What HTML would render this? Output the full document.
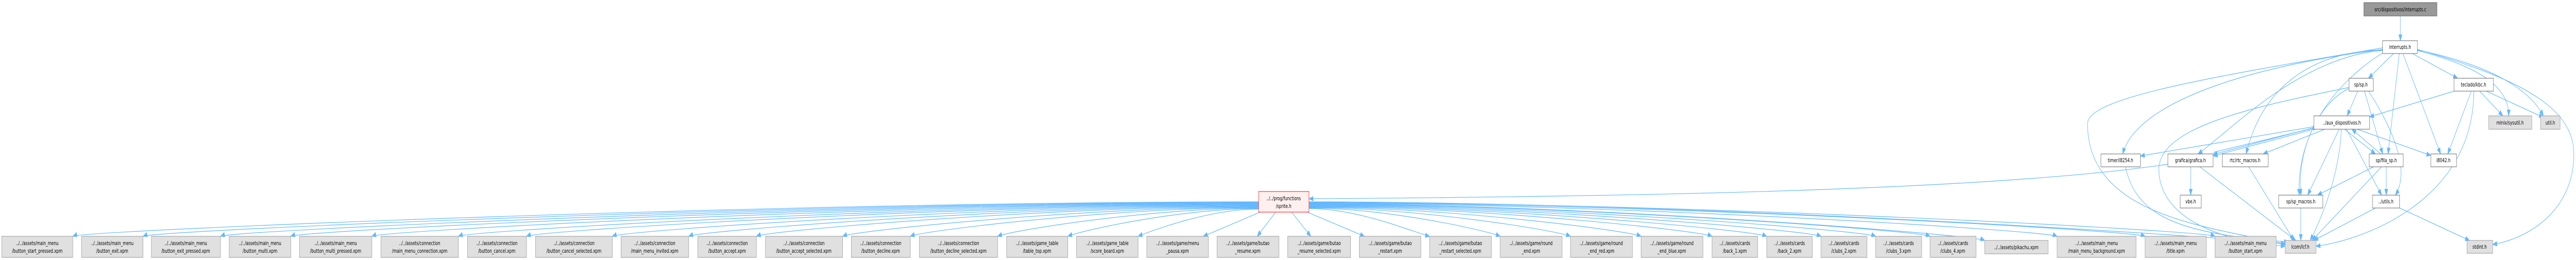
<!DOCTYPE html>
<html><head><meta charset="utf-8"><style>
html,body{margin:0;padding:0;background:#fff;width:100%;height:100%;overflow:hidden;}
svg{display:block;position:absolute;left:0;top:0;width:100vw;height:100vh;}
text{font-family:"DejaVu Sans","Liberation Sans",sans-serif;font-size:10.4px;fill:#000;text-anchor:middle;}
.e{fill:none;stroke:#63b8ff;stroke-width:1.2;marker-end:url(#a);}
.g{fill:#e0e0e0;stroke:#999;stroke-width:1;}
.w{fill:#fff;stroke:#666;stroke-width:1;}
</style></head><body>
<svg viewBox="0 0 7114 505" preserveAspectRatio="none" xmlns="http://www.w3.org/2000/svg">
<defs><marker id="a" markerUnits="userSpaceOnUse" markerWidth="14" markerHeight="11" refX="12" refY="4.5" orient="auto"><path d="M0,0 L12,4.5 L0,9 z" fill="#63b8ff" stroke="#63b8ff"/></marker></defs>

<path class="e" d="M3476,392 C2166,392 241,447 201,459"/>
<path class="e" d="M3476,393 C2244,393 435,447 395,459"/>
<path class="e" d="M3476,394 C2329,394 649,447 609,459"/>
<path class="e" d="M3476,395 C2407,395 843,447 803,459"/>
<path class="e" d="M3476,396 C2496,396 1067,447 1027,459"/>
<path class="e" d="M3476,397 C2592,397 1306,447 1266,459"/>
<path class="e" d="M3476,398 C2667,398 1494,447 1454,459"/>
<path class="e" d="M3476,399 C2762,399 1731,447 1691,459"/>
<path class="e" d="M3476,400 C2846,400 1942,447 1902,459"/>
<path class="e" d="M3476,401 C2921,401 2129,447 2089,459"/>
<path class="e" d="M3476,402 C3016,402 2367,447 2327,459"/>
<path class="e" d="M3476,403 C3091,403 2554,447 2514,459"/>
<path class="e" d="M3476,404 C3188,404 2795,447 2755,459"/>
<path class="e" d="M3476,405 C3265,405 2989,447 2949,459"/>
<path class="e" d="M3476,406 C3343,406 3183,447 3143,459"/>
<path class="e" d="M3480,412 L3323,459"/>
<path class="e" d="M3523,412 L3472,459"/>
<path class="e" d="M3567,412 L3620,459"/>
<path class="e" d="M3610,412 L3768,459"/>
<path class="e" d="M3615,405 C3750,405 3900,450 3948,459"/>
<path class="e" d="M3615,404 C3826,404 4103,447 4143,459"/>
<path class="e" d="M3615,403 C3904,403 4297,447 4337,459"/>
<path class="e" d="M3615,402 C3982,402 4492,447 4532,459"/>
<path class="e" d="M3615,401 C4060,401 4688,447 4728,459"/>
<path class="e" d="M3615,400 C4121,400 4839,447 4879,459"/>
<path class="e" d="M3615,399 C4181,399 4989,447 5029,459"/>
<path class="e" d="M3615,398 C4241,398 5140,447 5180,459"/>
<path class="e" d="M3615,397 C4301,397 5290,447 5330,459"/>
<path class="e" d="M3615,396 C4361,396 5441,455 5481,467"/>
<path class="e" d="M3615,395 C4441,395 5641,447 5681,459"/>
<path class="e" d="M3615,394 C4539,394 5884,447 5924,459"/>
<path class="e" d="M3615,393 C4616,393 6077,447 6117,459"/>
<path class="e" d="M3615,392 C4693,392 6271,465 6311,475"/>
<path class="e" d="M5987,319 C5500,370 4500,382 3615,386"/>

<path class="e" d="M6629,31 L6629,79"/>
<path class="e" d="M6610,104 L6541,152"/>
<path class="e" d="M6662,104 L6787,152"/>
<path class="e" d="M6676,98 C6850,130 6930,170 6928,225"/>
<path class="e" d="M6676,97 C6900,130 6990,180 7024,225"/>
<path class="e" d="M6676,96 C7000,160 7108,220 7108,300 C7108,400 7000,460 6884,475"/>
<path class="e" d="M6636,104 L6740,299"/>
<path class="e" d="M6626,104 L6595,299"/>
<path class="e" d="M6580,103 C6450,160 6340,260 6350,379"/>
<path class="e" d="M6580,98 C6350,110 6150,260 6070,299"/>
<path class="e" d="M6580,97 C6400,100 6250,160 6203,299"/>
<path class="e" d="M6580,96 C6200,130 5900,200 5862,299"/>
<path class="e" d="M6580,93 C6100,150 5765,190 5765,240 C5765,420 6100,440 6311,474"/>
<path class="e" d="M6511,177 L6482,225"/>
<path class="e" d="M6530,177 L6580,299"/>
<path class="e" d="M6541,177 C6600,240 6660,330 6615,379"/>
<path class="e" d="M6487,172 C6400,200 6340,300 6355,379"/>
<path class="e" d="M6487,170 C6200,210 5960,250 5962,330 C5965,430 6150,470 6311,478"/>
<path class="e" d="M6390,248 L6112,300"/>
<path class="e" d="M6395,250 L6112,303"/>
<path class="e" d="M6112,296 L6400,247"/>
<path class="e" d="M6390,246 L5911,303"/>
<path class="e" d="M6420,251 L6250,299"/>
<path class="e" d="M6475,251 L6560,299"/>
<path class="e" d="M6575,299 L6495,251"/>
<path class="e" d="M6510,251 L6713,302"/>
<path class="e" d="M6460,251 L6373,379"/>
<path class="e" d="M6480,251 L6577,379"/>
<path class="e" d="M6466,251 C6460,350 6400,440 6380,467"/>
<path class="e" d="M6777,177 L6544,227"/>
<path class="e" d="M6825,177 L6760,299"/>
<path class="e" d="M6848,177 L6912,225"/>
<path class="e" d="M6866,177 L7024,228"/>
<path class="e" d="M6832,177 C6830,400 6500,470 6396,478"/>
<path class="e" d="M6050,324 L6050,379"/>
<path class="e" d="M6075,324 L6340,467"/>
<path class="e" d="M6210,324 L6335,467"/>
<path class="e" d="M5870,324 C5900,430 6050,455 6320,470"/>
<path class="e" d="M6555,324 L6400,379"/>
<path class="e" d="M6590,324 L6590,379"/>
<path class="e" d="M6577,324 L6385,467"/>
<path class="e" d="M6354,404 L6354,467"/>
<path class="e" d="M6560,404 L6390,467"/>
<path class="e" d="M6627,404 L6820,467"/>

<g>
<rect class="g" x="5" y="459" width="196" height="41"/><text x="103" y="476">../../assets/main_menu</text><text x="103" y="491">/button_start_pressed.xpm</text>
<rect class="g" x="225" y="459" width="170" height="41"/><text x="310" y="476">../../assets/main_menu</text><text x="310" y="491">/button_exit.xpm</text>
<rect class="g" x="418" y="459" width="191" height="41"/><text x="513" y="476">../../assets/main_menu</text><text x="513" y="491">/button_exit_pressed.xpm</text>
<rect class="g" x="633" y="459" width="170" height="41"/><text x="718" y="476">../../assets/main_menu</text><text x="718" y="491">/button_multi.xpm</text>
<rect class="g" x="827" y="459" width="200" height="41"/><text x="927" y="476">../../assets/main_menu</text><text x="927" y="491">/button_multi_pressed.xpm</text>
<rect class="g" x="1052" y="459" width="214" height="41"/><text x="1159" y="476">../../assets/connection</text><text x="1159" y="491">/main_menu_connection.xpm</text>
<rect class="g" x="1291" y="459" width="163" height="41"/><text x="1372" y="476">../../assets/connection</text><text x="1372" y="491">/button_cancel.xpm</text>
<rect class="g" x="1479" y="459" width="212" height="41"/><text x="1585" y="476">../../assets/connection</text><text x="1585" y="491">/button_cancel_selected.xpm</text>
<rect class="g" x="1715" y="459" width="187" height="41"/><text x="1808" y="476">../../assets/connection</text><text x="1808" y="491">/main_menu_invited.xpm</text>
<rect class="g" x="1927" y="459" width="162" height="41"/><text x="2008" y="476">../../assets/connection</text><text x="2008" y="491">/button_accept.xpm</text>
<rect class="g" x="2114" y="459" width="213" height="41"/><text x="2220" y="476">../../assets/connection</text><text x="2220" y="491">/button_accept_selected.xpm</text>
<rect class="g" x="2351" y="459" width="163" height="41"/><text x="2432" y="476">../../assets/connection</text><text x="2432" y="491">/button_decline.xpm</text>
<rect class="g" x="2539" y="459" width="216" height="41"/><text x="2647" y="476">../../assets/connection</text><text x="2647" y="491">/button_decline_selected.xpm</text>
<rect class="g" x="2780" y="459" width="169" height="41"/><text x="2864" y="476">../../assets/game_table</text><text x="2864" y="491">/table_top.xpm</text>
<rect class="g" x="2973" y="459" width="170" height="41"/><text x="3058" y="476">../../assets/game_table</text><text x="3058" y="491">/score_board.xpm</text>
<rect class="g" x="3167" y="459" width="170" height="41"/><text x="3252" y="476">../../assets/game/menu</text><text x="3252" y="491">_pausa.xpm</text>
<rect class="g" x="3361" y="459" width="171" height="41"/><text x="3446" y="476">../../assets/game/butao</text><text x="3446" y="491">_resume.xpm</text>
<rect class="g" x="3556" y="459" width="174" height="41"/><text x="3643" y="476">../../assets/game/butao</text><text x="3643" y="491">_resume_selected.xpm</text>
<rect class="g" x="3754" y="459" width="170" height="41"/><text x="3839" y="476">../../assets/game/butao</text><text x="3839" y="491">_restart.xpm</text>
<rect class="g" x="3948" y="459" width="171" height="41"/><text x="4033" y="476">../../assets/game/butao</text><text x="4033" y="491">_restart_selected.xpm</text>
<rect class="g" x="4143" y="459" width="171" height="41"/><text x="4228" y="476">../../assets/game/round</text><text x="4228" y="491">_end.xpm</text>
<rect class="g" x="4337" y="459" width="171" height="41"/><text x="4422" y="476">../../assets/game/round</text><text x="4422" y="491">_end_red.xpm</text>
<rect class="g" x="4532" y="459" width="171" height="41"/><text x="4617" y="476">../../assets/game/round</text><text x="4617" y="491">_end_blue.xpm</text>
<rect class="g" x="4728" y="459" width="126" height="41"/><text x="4791" y="476">../../assets/cards</text><text x="4791" y="491">/back_1.xpm</text>
<rect class="g" x="4879" y="459" width="126" height="41"/><text x="4942" y="476">../../assets/cards</text><text x="4942" y="491">/back_2.xpm</text>
<rect class="g" x="5029" y="459" width="127" height="41"/><text x="5092" y="476">../../assets/cards</text><text x="5092" y="491">/clubs_2.xpm</text>
<rect class="g" x="5180" y="459" width="127" height="41"/><text x="5243" y="476">../../assets/cards</text><text x="5243" y="491">/clubs_3.xpm</text>
<rect class="g" x="5330" y="459" width="127" height="41"/><text x="5393" y="476">../../assets/cards</text><text x="5393" y="491">/clubs_4.xpm</text>
<rect class="g" x="5481" y="467" width="175" height="26"/><text x="5568" y="484">../../assets/pikachu.xpm</text>
<rect class="g" x="5681" y="459" width="218" height="41"/><text x="5790" y="476">../../assets/main_menu</text><text x="5790" y="491">/main_menu_background.xpm</text>
<rect class="g" x="5924" y="459" width="169" height="41"/><text x="6008" y="476">../../assets/main_menu</text><text x="6008" y="491">/title.xpm</text>
<rect class="g" x="6117" y="459" width="169" height="41"/><text x="6201" y="476">../../assets/main_menu</text><text x="6201" y="491">/button_start.xpm</text>
<rect class="g" x="6311" y="467" width="85" height="25"/><text x="6353" y="483">lcom/lcf.h</text>
<rect class="g" x="6813" y="467" width="71" height="25"/><text x="6848" y="483">stdint.h</text>
</g>

<rect x="3476" y="372" width="139" height="40" fill="#fff0f0" stroke="#f33" stroke-width="1.2"/>
<text x="3545" y="389">../../prog/functions</text><text x="3545" y="404">/sprite.h</text>

<rect x="6528" y="5" width="202" height="26" fill="#999" stroke="#666"/><text x="6629" y="22">src/dispositivos/interrupts.c</text>
<rect class="w" x="6580" y="79" width="96" height="25"/><text x="6628" y="95">interrupts.h</text>
<rect class="w" x="6487" y="152" width="67" height="25"/><text x="6520" y="168">sp/sp.h</text>
<rect class="w" x="6777" y="152" width="109" height="25"/><text x="6831" y="168">teclado/kbc.h</text>
<rect class="w" x="6390" y="225" width="154" height="26"/><text x="6467" y="242">../aux_dispositivos.h</text>
<rect class="g" x="6873" y="225" width="119" height="26"/><text x="6932" y="242">minix/sysutil.h</text>
<rect class="g" x="7016" y="225" width="54" height="26"/><text x="7043" y="242">util.h</text>
<rect class="w" x="5802" y="299" width="109" height="25"/><text x="5856" y="315">timer/i8254.h</text>
<rect class="w" x="5987" y="299" width="125" height="25"/><text x="6049" y="315">grafica/grafica.h</text>
<rect class="w" x="6137" y="299" width="127" height="25"/><text x="6200" y="315">rtc/rtc_macros.h</text>
<rect class="w" x="6543" y="299" width="94" height="25"/><text x="6590" y="315">sp/fila_sp.h</text>
<rect class="w" x="6713" y="299" width="71" height="25"/><text x="6748" y="315">i8042.h</text>
<rect class="w" x="6021" y="379" width="58" height="25"/><text x="6050" y="395">vbe.h</text>
<rect class="w" x="6293" y="379" width="122" height="25"/><text x="6354" y="395">sp/sp_macros.h</text>
<rect class="w" x="6552" y="379" width="75" height="25"/><text x="6589" y="395">../utils.h</text>
</svg>
</body></html>
